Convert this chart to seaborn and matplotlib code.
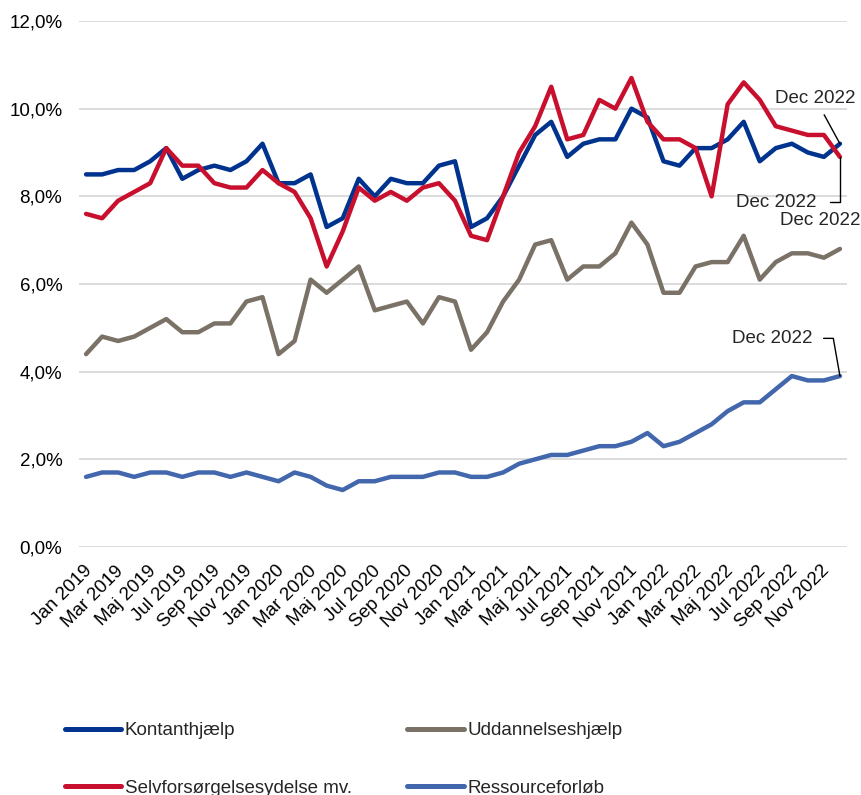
import matplotlib
matplotlib.use("Agg")
import matplotlib.pyplot as plt
import matplotlib.transforms as mtransforms
from matplotlib.ticker import FuncFormatter
import pandas as pd
import seaborn as sns

# Data (andel i procent, jan 2019 - dec 2022)
month_names = ["Jan", "Feb", "Mar", "Apr", "Maj", "Jun", "Jul", "Aug", "Sep", "Okt", "Nov", "Dec"]
years = [2019, 2020, 2021, 2022]
months = [f"{m} {y}" for y in years for m in month_names]

kontanthjaelp = [8.5, 8.5, 8.6, 8.6, 8.8, 9.1, 8.4, 8.6, 8.7, 8.6, 8.8, 9.2,
                 8.3, 8.3, 8.5, 7.3, 7.5, 8.4, 8.0, 8.4, 8.3, 8.3, 8.7, 8.8,
                 7.3, 7.5, 8.0, 8.7, 9.4, 9.7, 8.9, 9.2, 9.3, 9.3, 10.0, 9.8,
                 8.8, 8.7, 9.1, 9.1, 9.3, 9.7, 8.8, 9.1, 9.2, 9.0, 8.9, 9.2]
selvforsorgelse = [7.6, 7.5, 7.9, 8.1, 8.3, 9.1, 8.7, 8.7, 8.3, 8.2, 8.2, 8.6,
                   8.3, 8.1, 7.5, 6.4, 7.2, 8.2, 7.9, 8.1, 7.9, 8.2, 8.3, 7.9,
                   7.1, 7.0, 8.0, 9.0, 9.6, 10.5, 9.3, 9.4, 10.2, 10.0, 10.7, 9.7,
                   9.3, 9.3, 9.1, 8.0, 10.1, 10.6, 10.2, 9.6, 9.5, 9.4, 9.4, 8.9]
uddannelseshjaelp = [4.4, 4.8, 4.7, 4.8, 5.0, 5.2, 4.9, 4.9, 5.1, 5.1, 5.6, 5.7,
                     4.4, 4.7, 6.1, 5.8, 6.1, 6.4, 5.4, 5.5, 5.6, 5.1, 5.7, 5.6,
                     4.5, 4.9, 5.6, 6.1, 6.9, 7.0, 6.1, 6.4, 6.4, 6.7, 7.4, 6.9,
                     5.8, 5.8, 6.4, 6.5, 6.5, 7.1, 6.1, 6.5, 6.7, 6.7, 6.6, 6.8]
ressourceforlob = [1.6, 1.7, 1.7, 1.6, 1.7, 1.7, 1.6, 1.7, 1.7, 1.6, 1.7, 1.6,
                   1.5, 1.7, 1.6, 1.4, 1.3, 1.5, 1.5, 1.6, 1.6, 1.6, 1.7, 1.7,
                   1.6, 1.6, 1.7, 1.9, 2.0, 2.1, 2.1, 2.2, 2.3, 2.3, 2.4, 2.6,
                   2.3, 2.4, 2.6, 2.8, 3.1, 3.3, 3.3, 3.6, 3.9, 3.8, 3.8, 3.9]

series_names = ["Kontanthjælp", "Selvforsørgelsesydelse mv.", "Uddannelseshjælp", "Ressourceforløb"]
colors = ["#00338D", "#C8102E", "#7A7266", "#4267AC"]

df = pd.DataFrame({
    "month": range(len(months)),
    series_names[0]: kontanthjaelp,
    series_names[1]: selvforsorgelse,
    series_names[2]: uddannelseshjaelp,
    series_names[3]: ressourceforlob,
}).melt(id_vars="month", var_name="ydelse", value_name="andel")

sns.set_style("white")
plt.rcParams["font.family"] = ["Liberation Sans", "DejaVu Sans"]
plt.rcParams["lines.solid_capstyle"] = "round"
fs = 13.5

fig = plt.figure(figsize=(8.61, 7.95), dpi=100)
ax = fig.add_axes([79 / 861, 1 - 547 / 795, 768 / 861, 526 / 795])

sns.lineplot(data=df, x="month", y="andel", hue="ydelse", hue_order=series_names,
             palette=dict(zip(series_names, colors)), linewidth=3.2, legend=False, ax=ax)

ax.set_ylim(0, 12)
ax.set_xlim(-0.44, 47.44)
ax.set_yticks(range(0, 13, 2))
ax.yaxis.set_major_formatter(FuncFormatter(lambda v, p: f"{v:.1f}%".replace(".", ",")))
ax.set_xticks(range(0, len(months), 2))
ax.set_xticklabels(months[::2], rotation=45, ha="right", va="top", rotation_mode="anchor")
ax.tick_params(axis="both", length=0, labelsize=fs, colors="black")
ax.tick_params(axis="x", pad=11)
ax.tick_params(axis="y", pad=12)
# shift the rotated labels a bit to the left, like the original
shift = mtransforms.ScaledTranslation(-3 / 100, 0, fig.dpi_scale_trans)
for lbl in ax.get_xticklabels():
    lbl.set_transform(lbl.get_transform() + shift)
ax.set_xlabel("")
ax.set_ylabel("")
ax.yaxis.grid(True, color="#D9D9D9", linewidth=1.3)
ax.xaxis.grid(False)
ax.set_axisbelow(True)
for s in ax.spines.values():
    s.set_visible(False)

# Dec 2022 labels
line_kw = dict(arrowstyle="-", color="black", lw=1)
ax.annotate("Dec 2022", xy=(47, kontanthjaelp[-1]), xytext=(45.45, 10.24), fontsize=fs,
            ha="center", va="center", arrowprops=dict(**line_kw, shrinkA=4, shrinkB=0))
ax.annotate("Dec 2022", xy=(47, selvforsorgelse[-1]), xytext=(43.0, 7.86), fontsize=fs,
            ha="center", va="center",
            arrowprops=dict(**line_kw, shrinkA=8, shrinkB=0,
                            connectionstyle="angle,angleA=0,angleB=90,rad=0"))
ax.text(45.76, 7.44, "Dec 2022", fontsize=fs, ha="center", va="center")
ax.annotate("Dec 2022", xy=(47, ressourceforlob[-1]), xytext=(42.75, 4.76), fontsize=fs,
            ha="center", va="center",
            arrowprops=dict(**line_kw, shrinkA=6, shrinkB=0,
                            connectionstyle="angle,angleA=0,angleB=100,rad=0"))

leg = fig.legend(ax.lines[:4], series_names, loc="upper left", ncol=2,
                 bbox_to_anchor=(65 / 861, 1 - 722 / 795), frameon=False, fontsize=fs,
                 handlelength=3.0, handletextpad=0.2, labelspacing=2.15, columnspacing=2.95,
                 borderpad=0, borderaxespad=0)
for h in leg.get_lines():
    h.set_linewidth(3.6)

fig.savefig("out.png", dpi=100)
